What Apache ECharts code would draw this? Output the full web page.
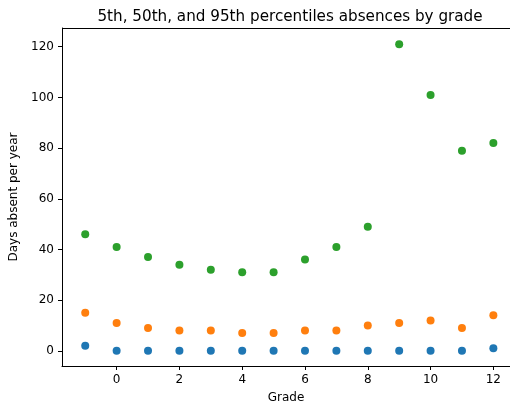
<!DOCTYPE html>
<html>
<head>
<meta charset="utf-8">
<script src="https://cdn.jsdelivr.net/npm/echarts@6/dist/echarts.min.js"></script>
<style>
  html, body { margin: 0; padding: 0; background: #fff; }
  #chart { width: 510px; height: 410px; }
</style>
</head>
<body>
<div id="chart"></div>
<script>
const grades = [-1, 0, 1, 2, 3, 4, 5, 6, 7, 8, 9, 10, 11, 12];
const p5 = [2, 0, 0, 0, 0, 0, 0, 0, 0, 0, 0, 0, 0, 1];
const p50 = [15, 11, 9, 8, 8, 7, 7, 8, 8, 10, 11, 12, 9, 14];
const p95 = [46, 41, 37, 34, 32, 31, 31, 36, 41, 49, 121, 101, 79, 82];
const xTicks = [0, 2, 4, 6, 8, 10, 12];
const yTicks = [0, 20, 40, 60, 80, 100, 120];

const font = "DejaVu Sans";
const pairs = (vals) => grades.map((g, i) => [g, vals[i]]);

const chart = echarts.init(document.getElementById("chart"));
chart.setOption({
  animation: false,
  title: {
    text: "5th, 50th, and 95th percentiles absences by grade",
    left: 285, top: 5, textAlign: "center",
    textStyle: { fontFamily: font, fontSize: 15.2, fontWeight: "normal", color: "#000" },
  },
  grid: { left: 62, top: 28, right: 0, bottom: 44 },
  xAxis: {
    type: "value",
    min: -1.74, max: 12.53,
    name: "Grade", nameLocation: "middle", nameGap: 26,
    nameTextStyle: { fontFamily: font, fontSize: 12, color: "#000" },
    axisLine: { show: true, onZero: false, lineStyle: { color: "#000", width: 1 } },
    axisTick: { show: true, length: 4, customValues: xTicks, lineStyle: { color: "#000" } },
    axisLabel: { customValues: xTicks, margin: 8, fontFamily: font, fontSize: 12, color: "#000" },
    splitLine: { show: false },
  },
  yAxis: {
    type: "value",
    min: -6, max: 127.4,
    name: "Days absent per year", nameLocation: "middle", nameGap: 40, nameRotate: 90,
    nameTextStyle: { fontFamily: font, fontSize: 12, color: "#000" },
    axisLine: { show: true, onZero: false, lineStyle: { color: "#000", width: 1 } },
    axisTick: { show: true, length: 4, customValues: yTicks, lineStyle: { color: "#000" } },
    axisLabel: { customValues: yTicks, margin: 8, fontFamily: font, fontSize: 12, color: "#000" },
    splitLine: { show: false },
  },
  series: [
    { name: "5th", type: "scatter", symbolSize: 8, data: pairs(p5), itemStyle: { color: "#1f77b4", opacity: 1 } },
    { name: "50th", type: "scatter", symbolSize: 8, data: pairs(p50), itemStyle: { color: "#ff7f0e", opacity: 1 } },
    { name: "95th", type: "scatter", symbolSize: 8, data: pairs(p95), itemStyle: { color: "#2ca02c", opacity: 1 } },
  ],
  graphic: [
    { type: "line", shape: { x1: 62, y1: 28.5, x2: 510, y2: 28.5 }, style: { stroke: "#000", lineWidth: 1 } },
  ],
});
</script>
</body>
</html>
